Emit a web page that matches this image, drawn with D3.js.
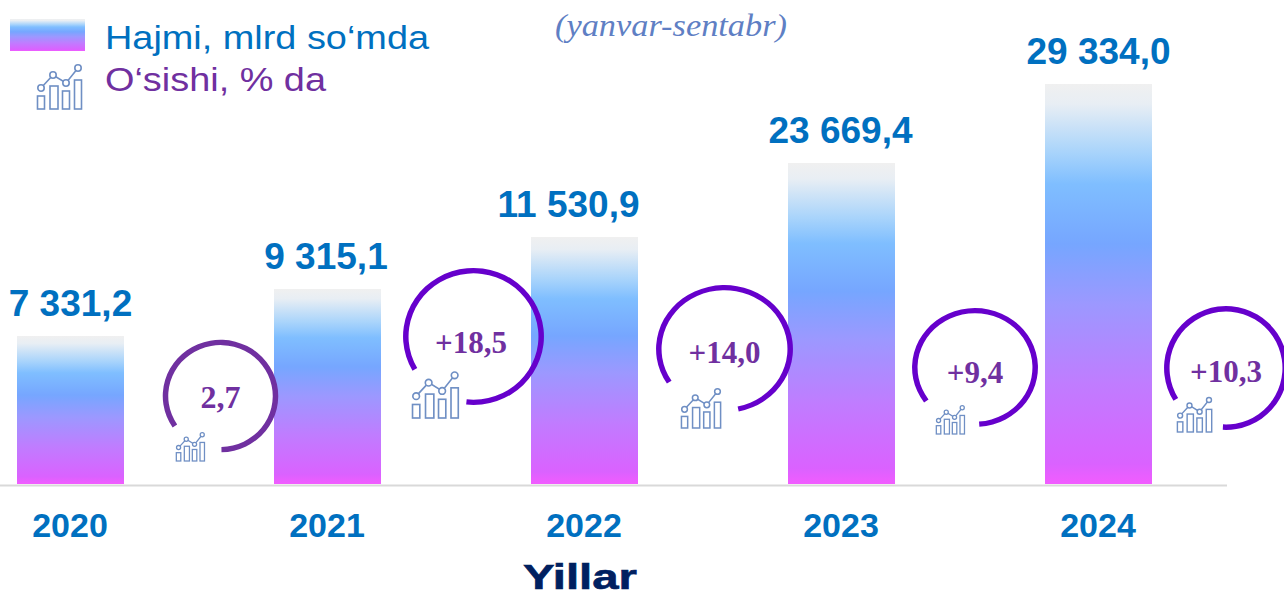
<!DOCTYPE html>
<html><head><meta charset="utf-8">
<script src="https://cdn.jsdelivr.net/npm/d3@7/dist/d3.min.js"></script>
<style>html,body{margin:0;padding:0;background:#fff;overflow:hidden}svg{display:block}</style>
</head><body><div id="c"></div>
<script>
const years = ["2020","2021","2022","2023","2024"];
const volumes = [7331.2, 9315.1, 11530.9, 23669.4, 29334.0];
const volumeLabels = ["7 331,2","9 315,1","11 530,9","23 669,4","29 334,0"];
const growthLabels = ["2,7","+18,5","+14,0","+9,4","+10,3"];

const W=1284,H=591,base=484;
const labelShift=[0,-1.5,-16,-1,0];
const ringColors=["#7030a0","#6600cc","#6600cc","#6600cc","#6600cc"];
const rings=[[220.5,396,55,5.5,.974],[473.5,336.5,67.7,5.5,.972],[724.5,349,65.7,5.5,.934],[975,367.5,60.2,5.5,.944],[1226,368,59.2,5.5,1]];
const ringAngles=[[-124,179],[-120,186],[-122.7,168],[-126,176],[-122,183]];
const iconsPos=[[176,461,.64],[412,418,1.04],[681,428,.89],[936,434,.64],[1177,432,.78]];
const growthTextPos=[[220.5,408,32],[471,353,31],[724.5,363,31],[975,383,31],[1226,382,31]];

const svg=d3.select("#c").append("svg").attr("width",W).attr("height",H);
const defs=svg.append("defs");
const grad=defs.append("linearGradient").attr("id","g").attr("x1",0).attr("y1",0).attr("x2",0).attr("y2",1);
[[0,"#f0f0f0"],[.05,"#e8eef4"],[.17,"#a9d4fb"],[.25,"#7fbeff"],[.4,"#76a6ff"],[.55,"#9c98ff"],[.75,"#c07cff"],[.95,"#da62ff"],[1,"#f25cff"]]
 .forEach(s=>grad.append("stop").attr("offset",s[0]).attr("stop-color",s[1]));

const x=d3.scalePoint().domain(years).range([70.5,1098.5]);
const y=d3.scaleLinear().domain([0,...volumes]).range([base,336,289,237,163,84]);
const bw=107;

svg.selectAll("rect.bar").data(years).join("rect").attr("class","bar")
 .attr("x",d=>x(d)-bw/2).attr("width",bw)
 .attr("y",(d,i)=>y(volumes[i])).attr("height",(d,i)=>base-y(volumes[i])).attr("fill","url(#g)");
svg.append("line").attr("x1",0).attr("x2",1227).attr("y1",485.5).attr("y2",485.5).attr("stroke","#d9d9d9").attr("stroke-width",2);

svg.selectAll("text.val").data(years).join("text").attr("class","val")
 .attr("x",(d,i)=>x(d)+labelShift[i]).attr("y",(d,i)=>y(volumes[i])-20).attr("text-anchor","middle")
 .attr("font-family","Liberation Sans").attr("font-weight","bold").attr("font-size",37).attr("fill","#0070c0")
 .text((d,i)=>volumeLabels[i]);
svg.selectAll("text.yr").data(years).join("text").attr("class","yr")
 .attr("x",d=>x(d)-0.5).attr("y",537).attr("text-anchor","middle")
 .attr("font-family","Liberation Sans").attr("font-weight","bold").attr("font-size",34).attr("fill","#0070c0").text(d=>d);

const rad=Math.PI/180;
const arc=d3.arc();
rings.forEach((r,i)=>{
  svg.append("path").attr("transform",`translate(${r[0]},${r[1]}) scale(1,${r[4]})`).attr("fill",ringColors[i])
   .attr("d",arc({innerRadius:r[2]-r[3]/2,outerRadius:r[2]+r[3]/2,startAngle:ringAngles[i][0]*rad,endAngle:ringAngles[i][1]*rad}));
  const t=growthTextPos[i];
  svg.append("text").attr("x",t[0]).attr("y",t[1]).attr("text-anchor","middle")
   .attr("font-family","Liberation Serif").attr("font-weight","bold").attr("font-size",t[2]).attr("fill","#7030a0").text(growthLabels[i]);
});

function icon(px,py,s){
  const g=svg.append("g").attr("transform",`translate(${px},${py}) scale(${s})`).attr("fill","none").attr("stroke","#6f8fc4").attr("stroke-width",1.6/Math.sqrt(s));
  [[0.5,-13,7,13],[13,-23,8,23],[25.5,-18,7,18],[37.5,-29,7,29]].forEach(b=>g.append("rect").attr("x",b[0]).attr("y",b[1]).attr("width",b[2]).attr("height",b[3]));
  const pts=[[4,-21],[16,-34],[29,-26],[41,-41]];
  g.append("path").attr("d",d3.line()(pts));
  g.selectAll("circle").data(pts).join("circle").attr("cx",d=>d[0]).attr("cy",d=>d[1]).attr("r",3.2).attr("fill","#fff");
}
iconsPos.forEach(c=>icon(...c));
icon(37,109,1);

svg.append("rect").attr("x",10).attr("y",19).attr("width",75).attr("height",32).attr("fill","url(#g)");
svg.append("text").attr("x",105).attr("y",49).attr("font-family","Liberation Sans").attr("font-size",33).attr("fill","#0070c0").attr("textLength",324).attr("lengthAdjust","spacingAndGlyphs").text("Hajmi, mlrd so‘mda");
svg.append("text").attr("x",105).attr("y",91).attr("font-family","Liberation Sans").attr("font-size",33).attr("fill","#7030a0").attr("textLength",221).attr("lengthAdjust","spacingAndGlyphs").text("O‘sishi, % da");
svg.append("text").attr("x",555).attr("y",36).attr("font-family","Liberation Serif").attr("font-style","italic").attr("font-size",31).attr("fill","#5f7fc4").attr("textLength",232).attr("lengthAdjust","spacingAndGlyphs").text("(yanvar-sentabr)");
svg.append("text").attr("x",523).attr("y",589).attr("font-family","Liberation Sans").attr("font-weight","bold").attr("font-size",35).attr("fill","#002060").attr("stroke","#002060").attr("stroke-width",.6).attr("textLength",114).attr("lengthAdjust","spacingAndGlyphs").text("Yillar");
</script></body></html>
